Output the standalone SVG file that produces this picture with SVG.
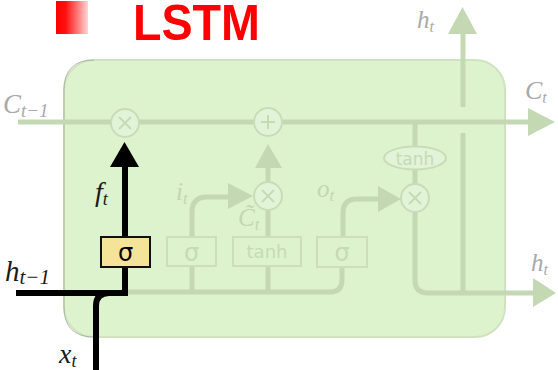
<svg xmlns="http://www.w3.org/2000/svg" width="558" height="370" viewBox="0 0 558 370">
<defs>
<linearGradient id="redfade" x1="0" y1="0" x2="1" y2="0">
<stop offset="0" stop-color="#ff0000"/>
<stop offset="0.3" stop-color="#ff1010"/>
<stop offset="1" stop-color="#ffd6d6"/>
</linearGradient>
<style>
.gl{fill:none;stroke:#c4d9b3;stroke-width:5;stroke-linecap:butt}
.gh{fill:#c4d9b3;stroke:none}
.bl{fill:none;stroke:#000;stroke-width:6;stroke-linejoin:miter}
.op{fill:#e2f4d7;stroke:#c8dcb8;stroke-width:2}
.opt{fill:none;stroke:#c6dab6;stroke-width:2}
.fb{fill:#ddf3cd;stroke:#cadfba;stroke-width:2}
.ft{font-family:"DejaVu Sans","Liberation Sans",sans-serif;fill:#c6dab6;text-anchor:middle}
.m{font-family:"Liberation Serif","DejaVu Serif",serif;font-style:italic}
.gray{fill:#a9a9a9}
.fade{fill:#c3d6b3}
.blk{fill:#1a1a1a}
</style>
</defs>
<g id="title">
<rect x="56" y="1" width="32" height="33" fill="url(#redfade)"/>
<text x="133" y="40" font-family="'Liberation Sans','DejaVu Sans',sans-serif" font-weight="bold" font-size="50" fill="#ff0000" textLength="127" lengthAdjust="spacingAndGlyphs">LSTM</text>
</g>
<g id="cell">
<rect x="64" y="60" width="441" height="277" rx="30" ry="30" fill="#ddf3cd" stroke="#cfe3c0" stroke-width="2"/>
<path d="M94,60 Q64,60 64,90 V307 Q64,337 94,337" fill="none" stroke="#9aa595" stroke-width="1" opacity="0.7"/>
</g>
<g id="connectors">
<path class="gl" d="M18,122 H530"/>
<polygon class="gh" points="528,108 528,136 555,122"/>
<path class="gl" d="M125,292 H330 Q342,292 342,280 V267"/>
<path class="gl" d="M192,292 V266"/>
<path class="gl" d="M268,292 V266"/>
<path class="gl" d="M192,237 V212 Q192,197 207,197 H232"/>
<polygon class="gh" points="228,183 228,209 253,196"/>
<path class="gl" d="M268,237 V210"/>
<path class="gl" d="M268,182 V166"/>
<polygon class="gh" points="255,168 282,168 268,144"/>
<path class="gl" d="M343,237 V213 Q343,199 357,199 H381"/>
<polygon class="gh" points="378,186 378,212 401,199"/>
<path class="gl" d="M415,212 V280 Q415,293 428,293 H535"/>
<polygon class="gh" points="533,278 533,307 556,293"/>
<path class="gl" d="M463,293 V133"/>
<path class="gl" d="M463,107 V30"/>
<polygon class="gh" points="448,34 477,34 462.5,7"/>
<path class="gl" d="M415,122 V147"/>
<path class="gl" d="M415,169 V184"/>
<path class="bl" d="M16,293 H125 V267"/>
<path class="bl" d="M96,370 V306 Q96,293 109,293"/>
<path class="bl" d="M125,237 V165"/>
<polygon fill="#000" points="110,167 139,167 124.5,142"/>
</g>
<g id="forget-mul">
<circle class="op" cx="125" cy="123" r="14"/>
<path class="opt" d="M119,117 L131,129 M131,117 L119,129"/>
</g>
<g id="cell-add">
<circle class="op" cx="268" cy="122" r="14"/>
<path class="opt" d="M268,115 V129 M261,122 H275"/>
</g>
<g id="input-mul">
<circle class="op" cx="268" cy="196" r="14"/>
<path class="opt" d="M262,190 L274,202 M274,190 L262,202"/>
</g>
<g id="output-mul">
<circle class="op" cx="415" cy="198" r="14"/>
<path class="opt" d="M409,192 L421,204 M421,192 L409,204"/>
</g>
<g id="tanh-out">
<ellipse class="op" cx="415" cy="158" rx="31" ry="11.5"/>
<text class="ft" x="415" y="165" font-size="17">tanh</text>
</g>
<g id="forget-gate">
<rect x="101" y="237" width="49" height="30" fill="#f6e39a" stroke="#111" stroke-width="2"/>
<text x="125.5" y="261" font-family="'DejaVu Sans','Liberation Sans',sans-serif" font-size="24" fill="#000" text-anchor="middle">σ</text>
</g>
<g id="input-gate">
<rect class="fb" x="167" y="237" width="49" height="29"/>
<text class="ft" x="191.5" y="261" font-size="24">σ</text>
</g>
<g id="candidate">
<rect class="fb" x="233" y="237" width="68" height="29"/>
<text class="ft" x="267" y="258" font-size="18">tanh</text>
</g>
<g id="output-gate">
<rect class="fb" x="317" y="237" width="50" height="30"/>
<text class="ft" x="342" y="261" font-size="24">σ</text>
</g>
<g id="labels">
<text class="m gray" x="3" y="113" font-size="27">C<tspan font-size="19" dy="4">t−1</tspan></text>
<text class="m gray" x="525" y="99" font-size="26">C<tspan font-size="16" dy="4">t</tspan></text>
<text class="m gray" x="417" y="28" font-size="25">h<tspan font-size="16" dy="4">t</tspan></text>
<text class="m gray" x="531" y="271" font-size="25">h<tspan font-size="16" dy="4">t</tspan></text>
<text class="m blk" x="5" y="281" font-size="29">h<tspan font-size="21" dy="3">t−1</tspan></text>
<text class="m blk" x="95" y="201" font-size="28">f<tspan font-size="18" dy="4">t</tspan></text>
<text class="m blk" x="59" y="363" font-size="28">x<tspan font-size="18" dy="4">t</tspan></text>
<text class="m fade" x="176" y="200" font-size="25">i<tspan font-size="17" dy="4">t</tspan></text>
<text class="m fade" x="317" y="197" font-size="25">o<tspan font-size="17" dy="4">t</tspan></text>
<text class="m fade" x="238" y="226" font-size="25">C̃<tspan font-size="17" dy="4">t</tspan></text>
</g>
</svg>
